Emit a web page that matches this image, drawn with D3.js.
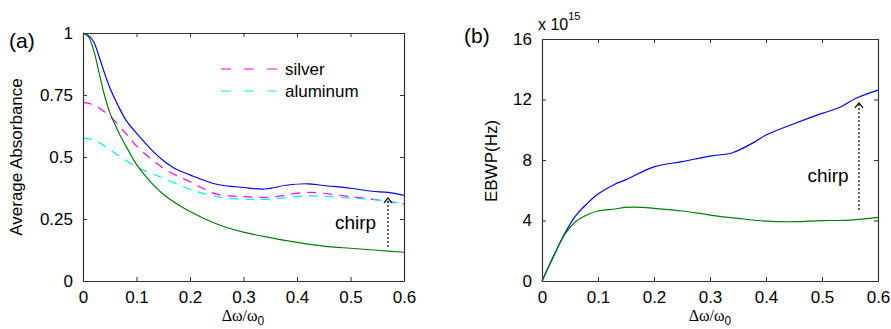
<!DOCTYPE html>
<html>
<head>
<meta charset="utf-8">
<script src="https://cdn.jsdelivr.net/npm/d3@7"></script>
<style>
	body { margin: 0; background: #fff; }
	text { font-family: "Liberation Sans", Arial, sans-serif; fill: #000; }
	.axis path, .axis line { stroke: #333; }
	.axis text { font-size: 17px; }
</style>
</head>
<body>
<svg id="viz"></svg>
<script>
// ---- panel (a): average absorbance ----
const blueAX = [0, 0.01, 0.02, 0.03, 0.04, 0.05, 0.065, 0.08, 0.1, 0.125, 0.15, 0.17, 0.2, 0.25, 0.3, 0.34, 0.38, 0.42, 0.45, 0.5, 0.54, 0.57, 0.6];
const blueAY = [1.0, 0.99, 0.965, 0.905, 0.84, 0.78, 0.71, 0.65, 0.596, 0.536, 0.486, 0.456, 0.428, 0.39, 0.377, 0.371, 0.386, 0.392, 0.385, 0.374, 0.362, 0.357, 0.345];

const greenAX = [0, 0.01, 0.02, 0.03, 0.04, 0.05, 0.06, 0.07, 0.08, 0.1, 0.12, 0.15, 0.2, 0.25, 0.3, 0.35, 0.4, 0.45, 0.5, 0.55, 0.6];
const greenAY = [1.0, 0.985, 0.93, 0.84, 0.75, 0.68, 0.63, 0.585, 0.545, 0.47, 0.415, 0.35, 0.28, 0.23, 0.197, 0.175, 0.156, 0.141, 0.132, 0.124, 0.116];

const silverX = [0, 0.02, 0.05, 0.08, 0.1, 0.15, 0.2, 0.25, 0.3, 0.35, 0.42, 0.5, 0.55, 0.6];
const silverY = [0.72, 0.71, 0.665, 0.595, 0.545, 0.455, 0.4, 0.35, 0.34, 0.338, 0.357, 0.34, 0.327, 0.311];

const aluX = [0, 0.02, 0.05, 0.1, 0.15, 0.2, 0.25, 0.3, 0.35, 0.42, 0.5, 0.55, 0.6];
const aluY = [0.575, 0.57, 0.53, 0.46, 0.415, 0.37, 0.34, 0.33, 0.33, 0.343, 0.334, 0.327, 0.311];

// ---- panel (b): EBWP (x 10^15 Hz) ----
const blueBX = [0, 0.02, 0.04, 0.06, 0.08, 0.1, 0.13, 0.15, 0.2, 0.25, 0.3, 0.34, 0.38, 0.4, 0.45, 0.5, 0.53, 0.56, 0.6];
const blueBY = [0, 1.6, 3.1, 4.3, 5.1, 5.75, 6.4, 6.7, 7.55, 7.89, 8.26, 8.48, 9.2, 9.65, 10.4, 11.08, 11.45, 12.07, 12.62];

const greenBX = [0, 0.02, 0.04, 0.06, 0.08, 0.1, 0.13, 0.15, 0.18, 0.2, 0.25, 0.3, 0.35, 0.4, 0.45, 0.5, 0.55, 0.6];
const greenBY = [0, 1.56, 3.04, 3.92, 4.36, 4.63, 4.76, 4.87, 4.87, 4.8, 4.63, 4.36, 4.14, 3.96, 3.92, 3.99, 4.03, 4.21];

const xTicks = [0, 0.1, 0.2, 0.3, 0.4, 0.5, 0.6];
const yTicksA = [0, 0.25, 0.5, 0.75, 1];
const yTickLabelsA = ["0", "0.25", "0.5", "0.75", "1"];
const yTicksB = [0, 4, 8, 12, 16];

const legendNames = ["silver", "aluminum"];

const width = 891;
const height = 329;

const svg = d3.select("svg#viz")
	.attr("width", width)
	.attr("height", height);

let translate = function(x, y) {
	return "translate(" + x + "," + y + ")";
};

let zip = (xs, ys) => xs.map((x, i) => [x, ys[i]]);

// draws box, inward ticks on all sides, labels on left/bottom
let drawFrame = function(g, x, y, yTicks, yFmt) {
	const w = x.range()[1], h = y.range()[0];
	const tk = -4;

	g.append("g").attr("class", "axis").attr("transform", translate(0, h))
		.call(d3.axisBottom(x).tickValues(xTicks).tickSizeInner(tk).tickSizeOuter(0).tickPadding(10).tickFormat(d3.format("")));
	g.append("g").attr("class", "axis")
		.call(d3.axisTop(x).tickValues(xTicks).tickSizeInner(tk).tickSizeOuter(0).tickFormat(""));
	g.append("g").attr("class", "axis")
		.call(d3.axisLeft(y).tickValues(yTicks).tickSizeInner(tk).tickSizeOuter(0).tickPadding(10).tickFormat(yFmt));
	g.append("g").attr("class", "axis").attr("transform", translate(w, 0))
		.call(d3.axisRight(y).tickValues(yTicks).tickSizeInner(tk).tickSizeOuter(0).tickFormat(""));
	g.selectAll(".axis .domain").attr("stroke-width", 1.2);
	g.selectAll(".axis text").attr("fill", "#000");
};

let drawArrow = function(g, x, y, xv, y0, y1) {
	g.append("line")
		.attr("x1", x(xv)).attr("x2", x(xv))
		.attr("y1", y(y0)).attr("y2", y(y1))
		.attr("stroke", "#000").attr("stroke-width", 1.2)
		.attr("stroke-dasharray", "2,2");
	const hx = x(xv), hy = y(y1);
	g.append("path")
		.attr("d", `M${hx - 4},${hy + 5}L${hx},${hy}L${hx + 4},${hy + 5}`)
		.attr("fill", "none").attr("stroke", "#000").attr("stroke-width", 1.2);
};

let xLabel = function(g, cx, cy) {
	const t = g.append("text")
		.attr("x", cx).attr("y", cy)
		.attr("text-anchor", "middle")
		.style("font-size", "16px");
	t.append("tspan").style("font-family", "'Liberation Serif', serif").text("\u0394\u03c9/\u03c9");
	t.append("tspan").attr("dy", 4).style("font-size", "12px").text("0");
};

// ---------- panel (a) ----------
const plotA = svg.append("g").attr("id", "plotA").attr("transform", translate(83, 33));
const xA = d3.scaleLinear().domain([0, 0.6]).range([0, 321]);
const yA = d3.scaleLinear().domain([0, 1]).range([248, 0]);

const lineA = d3.line().x(d => xA(d[0])).y(d => yA(d[1])).curve(d3.curveCatmullRom);

plotA.append("path").datum(zip(silverX, silverY))
	.attr("d", lineA).attr("fill", "none").attr("stroke", "#ff00ff")
	.attr("stroke-width", 1.2).attr("stroke-dasharray", "9,7");
plotA.append("path").datum(zip(aluX, aluY))
	.attr("d", lineA).attr("fill", "none").attr("stroke", "#00f0f0")
	.attr("stroke-width", 1.2).attr("stroke-dasharray", "9,7");
plotA.append("path").datum(zip(blueAX, blueAY))
	.attr("d", lineA).attr("fill", "none").attr("stroke", "#0000ff").attr("stroke-width", 1.2);
plotA.append("path").datum(zip(greenAX, greenAY))
	.attr("d", lineA).attr("fill", "none").attr("stroke", "#008000").attr("stroke-width", 1.2);

drawFrame(plotA, xA, yA, yTicksA, (d, i) => yTickLabelsA[i]);

// legend
const legColors = ["#ff00ff", "#00f0f0"];
const legend = plotA.append("g").attr("transform", translate(138, 36));
legendNames.forEach(function(name, i) {
	legend.append("line")
		.attr("x1", 0).attr("x2", 57)
		.attr("y1", i * 22).attr("y2", i * 22)
		.attr("stroke", legColors[i]).attr("stroke-width", 1.2)
		.attr("stroke-dasharray", "10,13");
	legend.append("text")
		.attr("x", 64).attr("y", i * 22 + 6)
		.style("font-size", "17px")
		.text(name);
});

drawArrow(plotA, xA, yA, 0.57, 0.137, 0.335);
plotA.append("text")
	.attr("x", xA(0.471)).attr("y", yA(0.238) + 7)
	.style("font-size", "19px").text("chirp");

plotA.append("text")
	.attr("transform", translate(-61, 124) + " rotate(-90)")
	.attr("text-anchor", "middle")
	.style("font-size", "17px")
	.text("Average Absorbance");
xLabel(plotA, 160, 288);

svg.append("text").attr("x", 9).attr("y", 48)
	.style("font-size", "21px").text("(a)");

// ---------- panel (b) ----------
const plotB = svg.append("g").attr("id", "plotB").attr("transform", translate(542, 39));
const xB = d3.scaleLinear().domain([0, 0.6]).range([0, 336]);
const yB = d3.scaleLinear().domain([0, 16]).range([242, 0]);

const lineB = d3.line().x(d => xB(d[0])).y(d => yB(d[1])).curve(d3.curveCatmullRom);

plotB.append("path").datum(zip(blueBX, blueBY))
	.attr("d", lineB).attr("fill", "none").attr("stroke", "#0000ff").attr("stroke-width", 1.2);
plotB.append("path").datum(zip(greenBX, greenBY))
	.attr("d", lineB).attr("fill", "none").attr("stroke", "#008000").attr("stroke-width", 1.2);

drawFrame(plotB, xB, yB, yTicksB, d3.format(""));

drawArrow(plotB, xB, yB, 0.566, 4.7, 11.77);
plotB.append("text")
	.attr("x", xB(0.474)).attr("y", yB(7.0) + 7)
	.style("font-size", "19px").text("chirp");

plotB.append("text")
	.attr("transform", translate(-45, 122) + " rotate(-90)")
	.attr("text-anchor", "middle")
	.style("font-size", "17px")
	.text("EBWP(Hz)");
xLabel(plotB, 168, 282);

const expo = svg.append("text").attr("x", 538).attr("y", 30).style("font-size", "16px");
expo.append("tspan").text("x 10");
expo.append("tspan").attr("dy", -10).style("font-size", "11px").text("15");

svg.append("text").attr("x", 464).attr("y", 43)
	.style("font-size", "21px").text("(b)");
</script>
</body>
</html>
